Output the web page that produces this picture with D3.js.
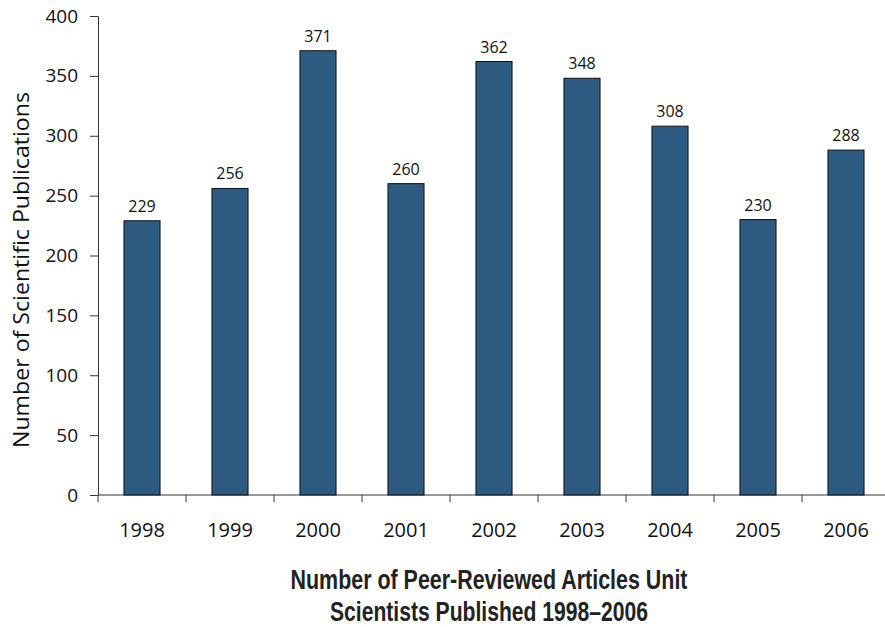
<!DOCTYPE html>
<html>
<head>
<meta charset="utf-8">
<script src="https://cdn.jsdelivr.net/npm/d3@7"></script>
<style>
  html, body { margin: 0; padding: 0; background: #fff; }
  svg { display: block; }
</style>
</head>
<body>
<svg id="chart" width="885" height="627"></svg>
<script>
// Peer-reviewed articles published per year
const years = ["1998", "1999", "2000", "2001", "2002", "2003", "2004", "2005", "2006"];
const publications = [229, 256, 371, 260, 362, 348, 308, 230, 288];
const yTicks = [0, 50, 100, 150, 200, 250, 300, 350, 400];
const titleLines = ["Number of Peer-Reviewed Articles Unit", "Scientists Published 1998\u20132006"];
const yLabel = "Number of Scientific Publications";

const svg = d3.select("#chart");
const font = "'Open Sans', 'DejaVu Sans', sans-serif";

const x = d3.scaleBand().domain(years).range([98, 890]).paddingInner(0.59).paddingOuter(0.295);
const y = d3.scaleLinear().domain([0, 400]).range([495, 16]);

// y axis
const yAxis = svg.append("g")
  .attr("transform", "translate(98,0)")
  .call(d3.axisLeft(y).tickValues(yTicks).tickSize(8).tickPadding(12).tickSizeOuter(0));
yAxis.select(".domain").attr("stroke", "#333");
yAxis.selectAll(".tick line").attr("stroke", "#333");
yAxis.selectAll(".tick text")
  .attr("font-family", font).attr("font-size", 19).attr("fill", "#111");

// x axis: ticks at band boundaries
const xAxisG = svg.append("g").attr("transform", "translate(0,495)");
xAxisG.append("line").attr("x1", 98).attr("x2", 885).attr("stroke", "#333");
const boundaries = years.map(d => x(d) - x.step() * x.paddingOuter());
xAxisG.selectAll("line.tk").data(boundaries).join("line")
  .attr("class", "tk")
  .attr("x1", d => d).attr("x2", d => d)
  .attr("y1", 0).attr("y2", 7)
  .attr("stroke", "#333");
xAxisG.selectAll("text").data(years).join("text")
  .attr("x", d => x(d) + x.bandwidth() / 2)
  .attr("y", 42)
  .attr("text-anchor", "middle")
  .attr("font-family", font).attr("font-size", 20).attr("fill", "#111")
  .text(d => d);

// bars
const data = years.map((yr, i) => ({ yr, v: publications[i] }));
svg.append("g").selectAll("rect").data(data).join("rect")
  .attr("x", d => x(d.yr))
  .attr("y", d => y(d.v))
  .attr("width", x.bandwidth())
  .attr("height", d => y(0) - y(d.v))
  .attr("fill", "#2d5a80")
  .attr("stroke", "#111")
  .attr("stroke-width", 1);

// value labels
svg.append("g").selectAll("text").data(data).join("text")
  .attr("x", d => x(d.yr) + x.bandwidth() / 2)
  .attr("y", d => y(d.v) - 9)
  .attr("text-anchor", "middle")
  .attr("font-family", font).attr("font-size", 16).attr("fill", "#111")
  .text(d => d.v);

// y axis title
svg.append("text")
  .attr("transform", "translate(29,270) rotate(-90)")
  .attr("text-anchor", "middle")
  .attr("font-family", font).attr("font-size", 21.5).attr("fill", "#111")
  .attr("textLength", 356).attr("lengthAdjust", "spacingAndGlyphs")
  .text(yLabel);

// chart title, condensed bold
const titleWidths = [397, 318];
svg.append("g").selectAll("text").data(titleLines).join("text")
  .attr("x", 489)
  .attr("y", (d, i) => 589 + i * 32)
  .attr("text-anchor", "middle")
  .attr("font-family", "'Liberation Sans', Arial, sans-serif")
  .attr("font-weight", "bold")
  .attr("font-size", 27)
  .attr("fill", "#222")
  .attr("textLength", (d, i) => titleWidths[i])
  .attr("lengthAdjust", "spacingAndGlyphs")
  .text(d => d);
</script>
</body>
</html>
